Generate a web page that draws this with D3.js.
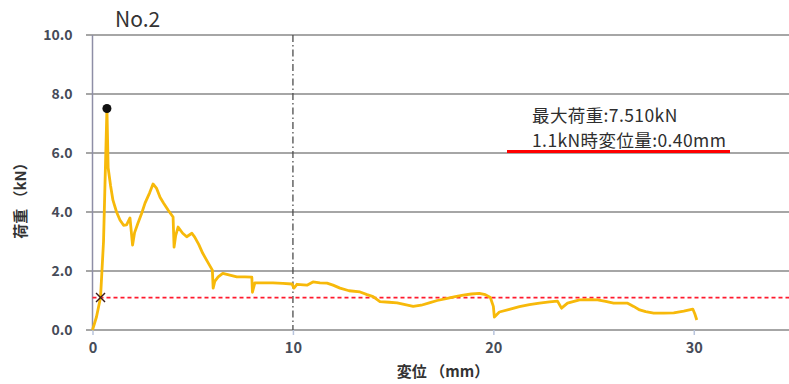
<!DOCTYPE html>
<html>
<head>
<meta charset="utf-8">
<script src="https://cdn.jsdelivr.net/npm/d3@7"></script>
<style>
  html, body { margin: 0; padding: 0; background: #fff; }
  svg { display: block; }
  text { font-family: "Noto Sans CJK JP", sans-serif; }
</style>
</head>
<body>
<svg id="chart" width="789" height="384"></svg>
<script>
// Load–displacement record of specimen No.2
const displacement = [0, 0.2, 0.4, 0.55, 0.72, 0.78, 0.9, 1.02, 1.2, 1.37, 1.55, 1.7, 1.87, 2.0, 2.1, 2.27, 2.45, 2.62, 2.85, 3.02, 3.2, 3.37, 3.55, 3.77, 4.02, 4.07, 4.15, 4.27, 4.5, 4.7, 4.96, 5.1, 5.3, 5.5, 5.75, 5.98, 6.02, 6.1, 6.27, 6.5, 6.9, 7.2, 7.6, 7.95, 7.98, 8.1, 8.5, 9.0, 9.5, 9.95, 10.05, 10.2, 10.7, 11.0, 11.35, 11.7, 12.0, 12.35, 12.8, 13.35, 13.7, 14.0, 14.34, 14.8, 15.2, 15.6, 16.0, 16.4, 16.8, 17.2, 17.7, 18.1, 18.5, 18.9, 19.3, 19.6, 19.85, 20.0, 20.05, 20.3, 20.8, 21.3, 21.8, 22.3, 22.8, 23.2, 23.4, 23.7, 24.3, 24.8, 25.2, 25.6, 26.0, 26.7, 27.0, 27.3, 27.6, 28.0, 28.5, 29.0, 29.5, 29.95, 30.05, 30.15];
const load = [0, 0.45, 1.1, 3.0, 7.51, 5.5, 4.9, 4.4, 4.0, 3.73, 3.55, 3.56, 3.8, 2.88, 3.3, 3.63, 3.95, 4.3, 4.65, 4.95, 4.8, 4.5, 4.3, 4.07, 3.83, 2.81, 3.2, 3.49, 3.28, 3.16, 3.28, 3.15, 2.9, 2.6, 2.3, 2.03, 1.42, 1.65, 1.8, 1.92, 1.85, 1.8, 1.8, 1.79, 1.28, 1.6, 1.6, 1.6, 1.58, 1.56, 1.42, 1.55, 1.52, 1.63, 1.6, 1.59, 1.52, 1.42, 1.33, 1.29, 1.2, 1.13, 0.96, 0.94, 0.92, 0.86, 0.8, 0.84, 0.92, 1.0, 1.07, 1.13, 1.18, 1.22, 1.24, 1.2, 1.1, 0.8, 0.44, 0.61, 0.7, 0.79, 0.86, 0.91, 0.95, 0.98, 0.74, 0.91, 1.02, 1.03, 1.02, 0.97, 0.91, 0.91, 0.8, 0.68, 0.62, 0.57, 0.57, 0.58, 0.64, 0.71, 0.55, 0.34];

const xTicks = [0, 10, 20, 30];
const yTicks = [0, 2, 4, 6, 8, 10];

const peakLoad = 7.510;          // kN
const peakDisp = 0.72;           // mm
const refLoad = 1.1;             // kN
const refDisp = 0.40;            // mm
const markerDisp = 10;           // mm

const svg = d3.select("#chart");

const x = d3.scaleLinear().domain([0, 35]).range([92.5, 794]);
const y = d3.scaleLinear().domain([0, 10]).range([330, 35]);

// horizontal gridlines, with short tick stubs to the left of the axis
const grid = svg.append("g");
yTicks.forEach(t => {
  grid.append("line")
    .attr("x1", 86).attr("x2", 789)
    .attr("y1", y(t)).attr("y2", y(t))
    .attr("stroke", "#a6a6a6").attr("stroke-width", 2);
});

// y axis line
svg.append("line")
  .attr("x1", x(0)).attr("x2", x(0))
  .attr("y1", y(10)).attr("y2", y(0))
  .attr("stroke", "#8e8ea6").attr("stroke-width", 1.5);

// y tick labels
const yAxis = d3.axisLeft(y).tickValues(yTicks).tickFormat(d3.format(".1f")).tickSize(0).tickPadding(20);
svg.append("g").attr("transform", `translate(${x(0)},0)`).call(yAxis)
  .call(g => g.select(".domain").remove())
  .call(g => g.selectAll("text")
    .attr("font-size", 14).attr("font-weight", 700)
    .attr("fill", "#464b58").attr("font-family", "Lato, sans-serif"));

// x axis: small ticks under the baseline, labels below
const xAxis = d3.axisBottom(x).tickValues(xTicks).tickFormat(d3.format("d")).tickSize(5).tickPadding(8);
svg.append("g").attr("transform", `translate(0,${y(0)})`).call(xAxis)
  .call(g => g.select(".domain").remove())
  .call(g => g.selectAll("line").attr("stroke", "#b8c4dc").attr("stroke-width", 1.5))
  .call(g => g.selectAll("text")
    .attr("font-size", 14.5).attr("font-weight", 700)
    .attr("fill", "#464b58").attr("font-family", "Lato, sans-serif"));

// vertical reference at 10 mm (dash-dot)
svg.append("line")
  .attr("x1", x(markerDisp)).attr("x2", x(markerDisp))
  .attr("y1", y(10)).attr("y2", y(0))
  .attr("stroke", "#4d4d4d").attr("stroke-width", 1.3)
  .attr("stroke-dasharray", "7,3,1.5,3");

// 1.1 kN reference line
svg.append("line")
  .attr("x1", x(0)).attr("x2", 789)
  .attr("y1", y(refLoad)).attr("y2", y(refLoad))
  .attr("stroke", "#ff1a2e").attr("stroke-width", 1.8)
  .attr("stroke-dasharray", "4,3");

// load–displacement curve
const pts = displacement.map((d, i) => [d, load[i]]);
const line = d3.line().x(d => x(d[0])).y(d => y(d[1]));
svg.append("path")
  .datum(pts)
  .attr("d", line)
  .attr("fill", "none")
  .attr("stroke", "#f7b90a")
  .attr("stroke-width", 2.8)
  .attr("stroke-linejoin", "round");

// peak load marker
svg.append("circle")
  .attr("cx", x(peakDisp)).attr("cy", y(peakLoad)).attr("r", 4.5)
  .attr("fill", "#111");

// displacement at 1.1 kN marker
const cx = x(refDisp), cy = y(refLoad), s = 4.5;
svg.append("path")
  .attr("d", `M${cx - s},${cy - s}L${cx + s},${cy + s}M${cx - s},${cy + s}L${cx + s},${cy - s}`)
  .attr("stroke", "#3a1a1a").attr("stroke-width", 1.4);

// annotation
const note = svg.append("g");
note.append("text").attr("x", 532).attr("y", 122)
  .attr("font-size", 17.5).attr("letter-spacing", 0.4).attr("fill", "#2e2e2e")
  .text(`最大荷重:${peakLoad.toFixed(3)}kN`);
note.append("text").attr("x", 532).attr("y", 147)
  .attr("font-size", 17.5).attr("letter-spacing", 0.4).attr("fill", "#2e2e2e")
  .text(`${refLoad}kN時変位量:${refDisp.toFixed(2)}mm`);
note.append("line")
  .attr("x1", 507).attr("x2", 730).attr("y1", 151.5).attr("y2", 151.5)
  .attr("stroke", "#ff0000").attr("stroke-width", 3);

// titles
svg.append("text").attr("x", 115).attr("y", 27)
  .attr("font-size", 21).attr("fill", "#333").attr("font-family", "Lato, sans-serif")
  .text("No.2");

svg.append("text")
  .attr("transform", `translate(26,197) rotate(-90)`)
  .attr("text-anchor", "middle")
  .attr("font-size", 15).attr("font-weight", 700).attr("fill", "#333")
  .text("荷重 （kN）");

svg.append("text").attr("x", 443).attr("y", 377)
  .attr("text-anchor", "middle")
  .attr("font-size", 15).attr("font-weight", 700).attr("fill", "#333")
  .text("変位 （mm）");
</script>
</body>
</html>
